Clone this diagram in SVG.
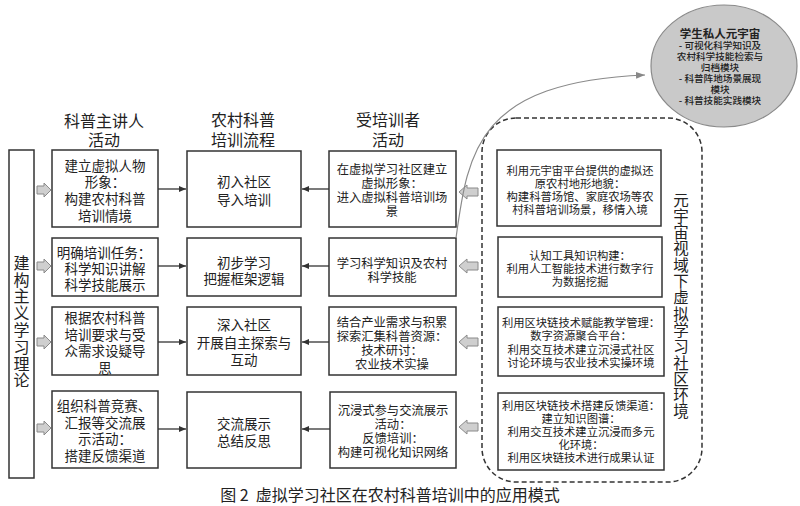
<svg xmlns="http://www.w3.org/2000/svg" width="800" height="506" viewBox="0 0 800 506">
<defs>
<style>
text{font-family:"Noto Sans CJK SC","Liberation Sans",sans-serif;fill:#222;text-anchor:middle;dominant-baseline:central}
.box{fill:#fff;stroke:#333;stroke-width:1.5}
.hd{font-size:16px}
.t14{font-size:13.5px}
.t12{font-size:12.3px}
.t11{font-size:11.3px}
.e{font-size:9.6px;font-weight:500}
.conn{stroke:#333;stroke-width:1.3;fill:none}
.blk{fill:#cfcfcf;stroke:#8a8a8a;stroke-width:1}
.vt{font-size:16px;writing-mode:vertical-rl;letter-spacing:0.8px}
.vt2{font-size:15.5px;writing-mode:vertical-rl;letter-spacing:0.8px}
</style>
<marker id="ah" markerWidth="8" markerHeight="8" refX="7" refY="4" orient="auto" markerUnits="userSpaceOnUse">
<path d="M0,1 L7,4 L0,7 Z" fill="#333"/>
</marker>
<marker id="ahg" markerWidth="10" markerHeight="10" refX="9" refY="5" orient="auto" markerUnits="userSpaceOnUse">
<path d="M0,1.5 L9,5 L0,8.5 Z" fill="#888"/>
</marker>
<path id="barR" d="M0,-4 L7,-4 L7,-7 L14,0 L7,7 L7,4 L0,4 Z"/>
<path id="barL" d="M0,0 L8,-7 L8,-4 L19,-4 L19,4 L8,4 L8,7 Z"/>
</defs>

<!-- ellipse -->
<g id="personal-metaverse">
<ellipse cx="724" cy="66" rx="73" ry="61" fill="#c9c9c9" stroke="#8a8a8a" stroke-width="1.2"/>
<text x="720" y="33" style="font-size:11.5px;font-weight:bold">学生私人元宇宙</text>
<text class="e"><tspan x="720" y="45">- 可视化科学知识及</tspan><tspan x="720" y="56">农村科学技能检索与</tspan><tspan x="720" y="67">归档模块</tspan><tspan x="720" y="78">- 科普阵地场景展现</tspan><tspan x="720" y="89">模块</tspan><tspan x="720" y="100">- 科普技能实践模块</tspan></text>
</g>

<!-- headers -->
<g id="headers">
<text class="hd"><tspan x="104" y="120">科普主讲人</tspan><tspan x="104" y="139">活动</tspan></text>
<text class="hd"><tspan x="243" y="119">农村科普</tspan><tspan x="243" y="139">培训流程</tspan></text>
<text class="hd"><tspan x="388" y="119">受培训者</tspan><tspan x="388" y="139">活动</tspan></text>
</g>

<!-- left theory box -->
<g id="theory">
<rect class="box" x="9" y="150" width="25" height="328"/>
<text class="vt" x="21.5" y="322">建构主义学习理论</text>
</g>

<!-- lecturer boxes -->
<g id="lecturer-1">
<rect class="box" x="52" y="150" width="106" height="77"/>
<text class="t14"><tspan x="105" y="165">建立虚拟人物</tspan><tspan x="105" y="181">形象：</tspan><tspan x="105" y="198">构建农村科普</tspan><tspan x="105" y="215">培训情境</tspan></text>
</g>
<g id="lecturer-2">
<rect class="box" x="52" y="238" width="106" height="58"/>
<text class="t14"><tspan x="104" y="252">明确培训任务：</tspan><tspan x="105" y="268">科学知识讲解</tspan><tspan x="105" y="284">科学技能展示</tspan></text>
</g>
<g id="lecturer-3">
<rect class="box" x="52" y="307" width="106" height="68"/>
<text class="t14"><tspan x="105" y="317">根据农村科普</tspan><tspan x="105" y="334">培训要求与受</tspan><tspan x="105" y="350">众需求设疑导</tspan><tspan x="105" y="367">思</tspan></text>
</g>
<g id="lecturer-4">
<rect class="box" x="52" y="391" width="106" height="77"/>
<text class="t14"><tspan x="104" y="405">组织科普竞赛、</tspan><tspan x="105" y="422">汇报等交流展</tspan><tspan x="105" y="438">示活动：</tspan><tspan x="105" y="455">搭建反馈渠道</tspan></text>
</g>

<!-- process boxes -->
<g id="process-1">
<rect class="box" x="187" y="151" width="114" height="76"/>
<text class="t14"><tspan x="244" y="181">初入社区</tspan><tspan x="244" y="199">导入培训</tspan></text>
</g>
<g id="process-2">
<rect class="box" x="187" y="238" width="114" height="58"/>
<text class="t14"><tspan x="244" y="262">初步学习</tspan><tspan x="244" y="278">把握框架逻辑</tspan></text>
</g>
<g id="process-3">
<rect class="box" x="187" y="307" width="114" height="68"/>
<text class="t14"><tspan x="244" y="324">深入社区</tspan><tspan x="244" y="342">开展自主探索与</tspan><tspan x="244" y="359">互动</tspan></text>
</g>
<g id="process-4">
<rect class="box" x="187" y="392" width="114" height="76"/>
<text class="t14"><tspan x="244" y="423">交流展示</tspan><tspan x="244" y="440">总结反思</tspan></text>
</g>

<!-- trainee boxes -->
<g id="trainee-1">
<rect class="box" x="329" y="151" width="127" height="76"/>
<text class="t12"><tspan x="392" y="169">在虚拟学习社区建立</tspan><tspan x="392" y="183">虚拟形象：</tspan><tspan x="392" y="197">进入虚拟科普培训场</tspan><tspan x="392" y="211">景</tspan></text>
</g>
<g id="trainee-2">
<rect class="box" x="329" y="238" width="127" height="58"/>
<text class="t12"><tspan x="392" y="263">学习科学知识及农村</tspan><tspan x="392" y="277">科学技能</tspan></text>
</g>
<g id="trainee-3">
<rect class="box" x="329" y="307" width="127" height="68"/>
<text class="t12"><tspan x="392" y="322">结合产业需求与积累</tspan><tspan x="392" y="336">探索汇集科普资源：</tspan><tspan x="392" y="350">技术研讨：</tspan><tspan x="392" y="364">农业技术实操</tspan></text>
</g>
<g id="trainee-4">
<rect class="box" x="330" y="392" width="126" height="76"/>
<text class="t12"><tspan x="393" y="410">沉浸式参与交流展示</tspan><tspan x="393" y="424">活动：</tspan><tspan x="393" y="438">反馈培训：</tspan><tspan x="393" y="452">构建可视化知识网络</tspan></text>
</g>

<!-- metaverse environment -->
<g id="metaverse-env">
<rect x="482" y="118" width="220" height="364" rx="34" ry="34" fill="none" stroke="#333" stroke-width="1.5" stroke-dasharray="5,3"/>
<text class="vt2" x="681" y="306">元宇宙视域下虚拟学习社区环境</text>
</g>
<g id="env-1">
<rect class="box" x="497" y="150" width="164" height="76"/>
<text class="t11"><tspan x="580" y="170">利用元宇宙平台提供的虚拟还</tspan><tspan x="580" y="183">原农村地形地貌：</tspan><tspan x="580" y="196">构建科普场馆、家庭农场等农</tspan><tspan x="580" y="209">村科普培训场景，移情入境</tspan></text>
</g>
<g id="env-2">
<rect class="box" x="498" y="237" width="164" height="60"/>
<text class="t11"><tspan x="580" y="255">认知工具知识构建：</tspan><tspan x="580" y="268">利用人工智能技术进行数字行</tspan><tspan x="580" y="281">为数据挖掘</tspan></text>
</g>
<g id="env-3">
<rect class="box" x="498" y="307" width="166" height="69"/>
<text class="t11"><tspan x="581" y="322">利用区块链技术赋能教学管理：</tspan><tspan x="581" y="335">数字资源聚合平台：</tspan><tspan x="581" y="349">利用交互技术建立沉浸式社区</tspan><tspan x="581" y="362">讨论环境与农业技术实操环境</tspan></text>
</g>
<g id="env-4">
<rect class="box" x="498" y="393" width="166" height="77"/>
<text class="t11"><tspan x="581" y="405">利用区块链技术搭建反馈渠道：</tspan><tspan x="581" y="418">建立知识图谱：</tspan><tspan x="581" y="431">利用交互技术建立沉浸而多元</tspan><tspan x="581" y="444">化环境：</tspan><tspan x="581" y="457">利用区块链技术进行成果认证</tspan></text>
</g>

<!-- connectors -->
<g id="connectors">
<line class="conn" x1="158" y1="189" x2="186" y2="189" marker-end="url(#ah)"/>
<line class="conn" x1="158" y1="266" x2="186" y2="266" marker-end="url(#ah)"/>
<line class="conn" x1="158" y1="342" x2="186" y2="342" marker-end="url(#ah)"/>
<line class="conn" x1="158" y1="429" x2="186" y2="429" marker-end="url(#ah)"/>
<line class="conn" x1="329" y1="189" x2="302" y2="189" marker-end="url(#ah)"/>
<line class="conn" x1="329" y1="266" x2="302" y2="266" marker-end="url(#ah)"/>
<line class="conn" x1="329" y1="342" x2="302" y2="342" marker-end="url(#ah)"/>
<line class="conn" x1="330" y1="429" x2="302" y2="429" marker-end="url(#ah)"/>
<use href="#barR" class="blk" x="37" y="190"/>
<use href="#barR" class="blk" x="37" y="266"/>
<use href="#barR" class="blk" x="37" y="342"/>
<use href="#barR" class="blk" x="37" y="428"/>
<use href="#barL" class="blk" x="459" y="192"/>
<use href="#barL" class="blk" x="459" y="266"/>
<use href="#barL" class="blk" x="459" y="342"/>
<use href="#barL" class="blk" x="459" y="427"/>
<path d="M456,238 C468,150 478,82 645,75" fill="none" stroke="#8a8a8a" stroke-width="1.2" marker-end="url(#ahg)"/>
</g>

<text x="390" y="494" style="font-size:16px" xml:space="preserve">图 2  虚拟学习社区在农村科普培训中的应用模式</text>
</svg>
